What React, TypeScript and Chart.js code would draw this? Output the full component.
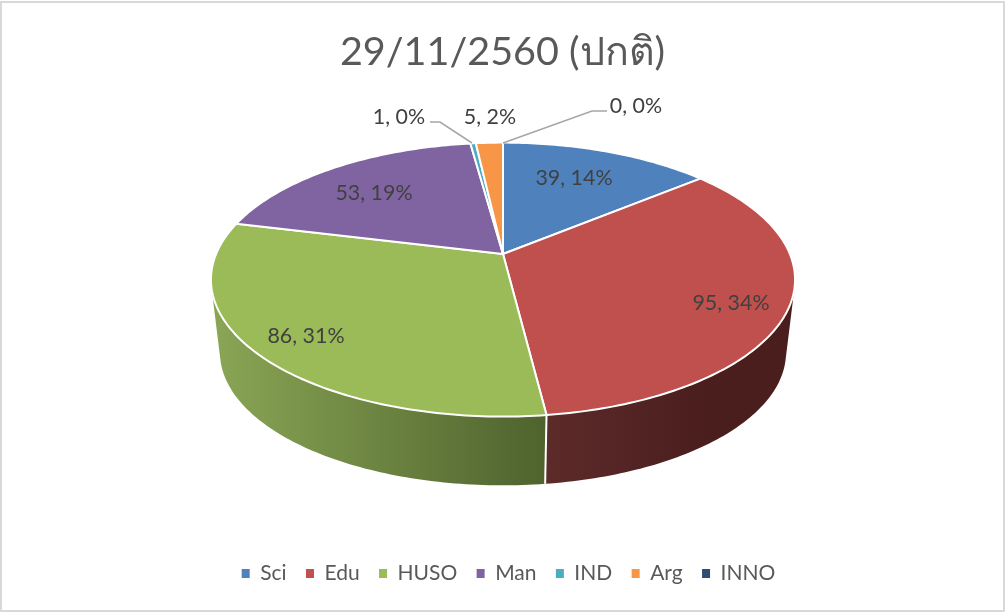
import React, { useEffect, useRef } from "react";
import { Chart, registerables } from "chart.js";

Chart.register(...registerables);

const titleText = "29/11/2560 (ปกติ)";
const categories = ["Sci", "Edu", "HUSO", "Man", "IND", "Arg", "INNO"];
const values = [39, 95, 86, 53, 1, 5, 0];
const topColors = ["#4f81bd", "#c0504d", "#9bbb59", "#8064a2", "#4bacc6", "#f79646", "#2c4d75"];

// Layout only
const labelCenters = [[574, 178], [731, 303], [306, 336], [374, 193], [399, 117], [490, 117], [636, 106]];
const leaders = [null, null, null, null, [[430, 122], [440, 122], [472, 143]], null, [[607, 111], [592, 111], [503, 143]]];
const CX = 503, CY = 254, P = 0.1868, Q = 132.2, R = 286.9;
const WALL_SCALE = 0.969, RIM_CY = 279.5, WALL_CY = 352.5;
const FONT = "Lato, 'Noto Sans', sans-serif";

const project = (a: number) => {
  const X = Math.cos(a), Y = Math.sin(a), w = 1 - P * Y;
  return [CX + (R * X) / w, CY + (Q * Y) / w];
};
const projectLow = (a: number) => {
  const [x, y] = project(a);
  return [CX + WALL_SCALE * (x - CX), WALL_CY + WALL_SCALE * (y - RIM_CY)];
};
const samples = (a0: number, a1: number) => {
  const n = Math.max(2, Math.ceil(Math.abs(a1 - a0) * 60));
  return Array.from({ length: n + 1 }, (_, i) => a0 + ((a1 - a0) * i) / n);
};

const pie3d = {
  id: "pie3d",
  afterLayout(chart: any) {
    // the reference's legend row sits slightly right of the plot centre
    chart.legend.left += 6;
    chart.legend.right += 6;
  },
  beforeDraw(chart: any) {
    const c = chart.ctx;
    c.save();
    c.fillStyle = "#ffffff";
    c.fillRect(0, 0, chart.width, chart.height);
    c.strokeStyle = "#d9d9d9";
    c.lineWidth = 2;
    c.strokeRect(1, 2, 1003, 609);
    c.restore();
  },
  beforeDatasetDraw(chart: any) {
    const c = chart.ctx;
    const arcs = chart.getDatasetMeta(0).data;
    c.save();
    arcs.forEach((el: any, i: number) => {
      if (!(el.endAngle > el.startAngle)) return;
      const sin0 = Math.sin(el.startAngle), sin1 = Math.sin(el.endAngle);
      if (sin0 < -0.4 && sin1 < -0.4) return;
      const pts = samples(el.startAngle, el.endAngle);
      const g = c.createLinearGradient(211, 0, 795, 0);
      if (categories[i] === "HUSO") {
        g.addColorStop(0, "#8aa655");
        g.addColorStop(0.57, "#4f632e");
      } else if (categories[i] === "Edu") {
        g.addColorStop(0.57, "#5c2b2a");
        g.addColorStop(0.85, "#4a1e1d");
      } else {
        g.addColorStop(0, topColors[i]);
        g.addColorStop(1, topColors[i]);
      }
      c.fillStyle = g;
      // one path of consistently wound quads, filled at once: no seams, full silhouette
      c.beginPath();
      for (let k = 0; k < pts.length - 1; k++) {
        const q = [project(pts[k]), project(pts[k + 1]), projectLow(pts[k + 1]), projectLow(pts[k])];
        let area = 0;
        q.forEach((p, j) => {
          const n = q[(j + 1) % 4];
          area += p[0] * n[1] - n[0] * p[1];
        });
        if (area < 0) q.reverse();
        q.forEach((p, j) => (j ? c.lineTo(p[0], p[1]) : c.moveTo(p[0], p[1])));
        c.closePath();
      }
      c.fill("nonzero");
    });
    arcs.forEach((el: any) => {
      if (!(el.endAngle > el.startAngle) || Math.sin(el.startAngle) <= 0) return;
      const s = project(el.startAngle), t = projectLow(el.startAngle);
      c.strokeStyle = "#ffffff";
      c.lineWidth = 2;
      c.beginPath();
      c.moveTo(s[0], s[1]);
      c.lineTo(t[0], t[1]);
      c.stroke();
    });
    arcs.forEach((el: any, i: number) => {
      if (!(el.endAngle > el.startAngle)) return;
      c.beginPath();
      c.moveTo(CX, CY);
      samples(el.startAngle, el.endAngle).forEach((a: number) => {
        const [x, y] = project(a);
        c.lineTo(x, y);
      });
      c.closePath();
      c.fillStyle = topColors[i];
      c.fill();
      c.strokeStyle = "#ffffff";
      c.lineWidth = 2;
      c.lineJoin = "round";
      c.stroke();
    });
    c.restore();
    return false;
  },
  afterDatasetsDraw(chart: any) {
    const c = chart.ctx;
    const total = values.reduce((s, v) => s + v, 0);
    c.save();
    c.strokeStyle = "#a6a6a6";
    c.lineWidth = 1.5;
    leaders.forEach((l) => {
      if (!l) return;
      c.beginPath();
      l.forEach(([x, y], k) => (k ? c.lineTo(x, y) : c.moveTo(x, y)));
      c.stroke();
    });
    c.fillStyle = "#404040";
    c.font = `21.4px ${FONT}`;
    c.textAlign = "center";
    c.textBaseline = "middle";
    values.forEach((v, i) => {
      const [x, y] = labelCenters[i];
      c.fillText(`${v}, ${Math.round((v / total) * 100)}%`, x, y);
    });
    c.restore();
  },
};

export default function App() {
  const ref = useRef<HTMLCanvasElement>(null);
  useEffect(() => {
    const chart = new Chart(ref.current!, {
      type: "pie",
      data: {
        labels: categories,
        datasets: [{ data: values, backgroundColor: topColors, borderWidth: 0 }],
      },
      plugins: [pie3d],
      options: {
        animation: false,
        responsive: false,
        layout: { padding: { bottom: 18 } },
        plugins: {
          tooltip: { enabled: false },
          title: {
            display: true,
            text: titleText,
            color: "#595959",
            font: { family: FONT, size: 39.5, weight: "normal" },
            padding: { top: 29, bottom: 10 },
          },
          legend: {
            position: "bottom",
            labels: {
              boxWidth: 8,
              boxHeight: 9,
              padding: 19.4,
              color: "#595959",
              font: { family: FONT, size: 21 },
            },
          },
        },
      },
    } as any);
    return () => chart.destroy();
  }, []);
  return (
    <div style={{ position: "fixed", left: 0, top: 0, width: 1005, height: 612, background: "#fff" }}>
      <canvas ref={ref} width={1005} height={612} style={{ display: "block" }} />
    </div>
  );
}
